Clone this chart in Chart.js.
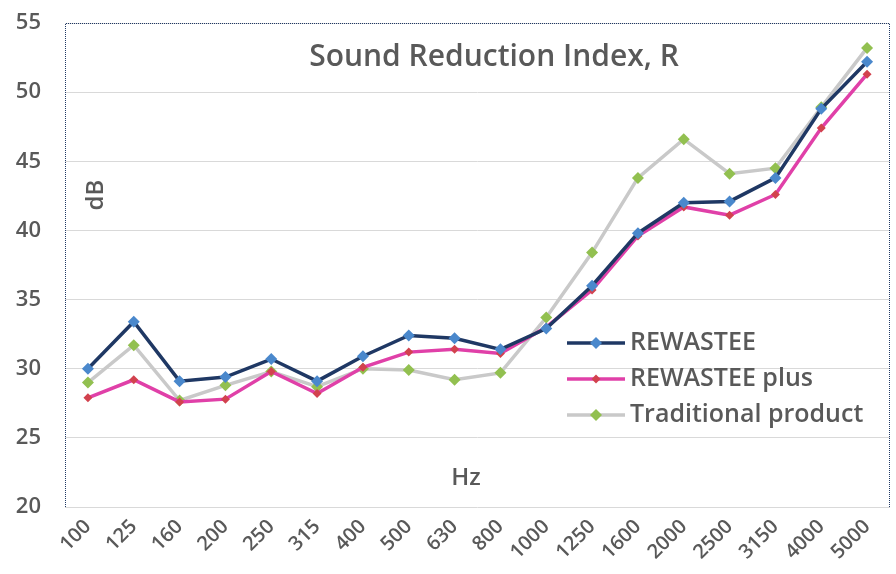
<!DOCTYPE html>
<html>
<head>
<meta charset="utf-8">
<script src="https://cdn.jsdelivr.net/npm/chart.js@4"></script>
<style>
    html, body { margin: 0; padding: 0; background: #ffffff; }
    #wrap { width: 896px; height: 574px; }
</style>
</head>
<body>
<div id="wrap"><canvas id="myChart" width="896" height="574"></canvas></div>
<script>
const frequencies = ['100', '125', '160', '200', '250', '315', '400', '500', '630', '800',
    '1000', '1250', '1600', '2000', '2500', '3150', '4000', '5000'];

const rewastee = [30.0, 33.4, 29.1, 29.4, 30.7, 29.1, 30.9, 32.4, 32.2, 31.4,
    32.9, 36.0, 39.8, 42.0, 42.1, 43.8, 48.8, 52.2];

const rewasteePlus = [27.9, 29.2, 27.6, 27.8, 29.8, 28.2, 30.1, 31.2, 31.4, 31.1,
    33.0, 35.7, 39.6, 41.7, 41.1, 42.6, 47.4, 51.3];

const traditional = [29.0, 31.7, 27.7, 28.8, 29.8, 28.7, 30.0, 29.9, 29.2, 29.7,
    33.7, 38.4, 43.8, 46.6, 44.1, 44.5, 48.9, 53.2];

const seriesNames = ['REWASTEE', 'REWASTEE plus', 'Traditional product'];
const yTicks = [20, 25, 30, 35, 40, 45, 50, 55];

const textGray = '#595959';
const fontFamily = '"Open Sans", "DejaVu Sans", sans-serif';

// title, axis names, legend and plot frame drawn on the canvas
const decorations =
{
    id: 'decorations',
    afterDraw(chart)
    {
        const ctx = chart.ctx;
        const area = chart.chartArea;

        ctx.save();
        ctx.strokeStyle = '#1F3864';
        ctx.lineWidth = 1;
        ctx.setLineDash([1, 1]);
        ctx.beginPath();
        ctx.moveTo(area.left + 0.5, area.bottom);
        ctx.lineTo(area.left + 0.5, area.top + 0.5);
        ctx.lineTo(area.right - 0.5, area.top + 0.5);
        ctx.lineTo(area.right - 0.5, area.bottom);
        ctx.stroke();
        ctx.setLineDash([]);

        ctx.fillStyle = textGray;
        ctx.textBaseline = 'middle';
        ctx.textAlign = 'center';
        ctx.font = '600 30px ' + fontFamily;
        ctx.fillText('Sound Reduction Index, R', 494, 57);

        ctx.font = '600 24px ' + fontFamily;
        ctx.fillText('Hz', 466, 478);

        ctx.save();
        ctx.translate(96, 195);
        ctx.rotate(-Math.PI / 2);
        ctx.fillText('dB', 0, 0);
        ctx.restore();

        // legend
        const rows = [343, 379, 415];
        chart.data.datasets.forEach((ds, i) =>
        {
            const y = rows[i];
            ctx.strokeStyle = ds.borderColor;
            ctx.lineWidth = ds.borderWidth;
            ctx.beginPath();
            ctx.moveTo(567, y);
            ctx.lineTo(625, y);
            ctx.stroke();

            const r = ds.pointRadius;
            ctx.fillStyle = ds.pointBackgroundColor;
            ctx.beginPath();
            ctx.moveTo(596, y - r);
            ctx.lineTo(596 + r, y);
            ctx.lineTo(596, y + r);
            ctx.lineTo(596 - r, y);
            ctx.closePath();
            ctx.fill();

            ctx.fillStyle = textGray;
            ctx.textAlign = 'left';
            ctx.font = '600 25px ' + fontFamily;
            ctx.fillText(ds.label, 630, y);
        });
        ctx.restore();
    }
};

const ctx = document.getElementById('myChart');

const data =
{
    labels: frequencies,
    datasets:
    [
        {
            label: seriesNames[0],
            data: rewastee,
            borderColor: '#1F3864',
            borderWidth: 3.5,
            pointStyle: 'rectRot',
            pointRadius: 6,
            pointBackgroundColor: '#4A88CC',
            pointBorderWidth: 0,
            order: 1
        },
        {
            label: seriesNames[1],
            data: rewasteePlus,
            borderColor: '#E040A8',
            borderWidth: 3.5,
            pointStyle: 'rectRot',
            pointRadius: 4.5,
            pointBackgroundColor: '#D2424E',
            pointBorderWidth: 0,
            order: 2
        },
        {
            label: seriesNames[2],
            data: traditional,
            borderColor: '#C9C9C9',
            borderWidth: 3.5,
            pointStyle: 'rectRot',
            pointRadius: 6,
            pointBackgroundColor: '#92C050',
            pointBorderWidth: 0,
            order: 3
        }
    ]
};

new Chart(ctx,
{
    type: 'line',
    data: data,
    plugins: [decorations],
    options:
    {
        responsive: false,
        animation: false,
        layout: { padding: { top: 23, right: 4, left: 0, bottom: 0 } },
        plugins:
        {
            legend: { display: false },
            tooltip: { enabled: false },
            title: { display: false }
        },
        elements: { line: { tension: 0 } },
        scales:
        {
            x:
            {
                offset: true,
                grid: { display: false, drawTicks: false },
                border: { display: false },
                ticks:
                {
                    color: textGray,
                    font: { family: fontFamily, size: 20, weight: '600' },
                    minRotation: 45,
                    maxRotation: 45,
                    padding: 8,
                    autoSkip: false
                },
                afterFit(scale) { scale.height = 67; }
            },
            y:
            {
                min: yTicks[0],
                max: yTicks[yTicks.length - 1],
                afterBuildTicks(scale) { scale.ticks = yTicks.map(v => ({ value: v })); },
                grid: { color: '#D9D9D9', lineWidth: 1, drawTicks: false },
                border: { display: false },
                ticks:
                {
                    color: textGray,
                    font: { family: fontFamily, size: 22, weight: '600' },
                    padding: 24
                },
                afterFit(scale)
                {
                    scale.width = 65;
                    scale.paddingTop = 0;
                    scale.paddingBottom = 0;
                }
            }
        }
    }
});
</script>
</body>
</html>
